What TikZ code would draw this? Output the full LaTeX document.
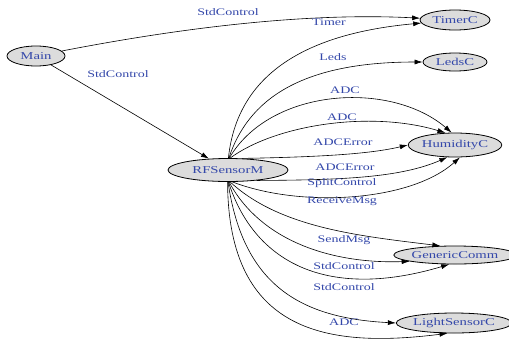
\documentclass[tikz,border=0pt]{standalone}
\usepackage{fontspec}
\setmainfont{Liberation Serif}[FakeStretch=1.4]
\usetikzlibrary{shapes.geometric,arrows.meta}

\definecolor{txtblue}{RGB}{52,72,170}
\definecolor{compgray}{RGB}{220,220,220}

\tikzset{
  comp/.style={ellipse, draw=black, thick, fill=compgray, text=txtblue,
    inner sep=0pt, minimum height=20, font=\fontsize{10.5}{12}\selectfont},
  iface/.style={-{Latex[length=8pt,width=5pt]}, semithick},
  lbl/.style={text=txtblue, inner sep=0pt, font=\fontsize{10}{12}\selectfont}
}

\begin{document}
\begin{tikzpicture}[x=1pt, y=-1pt]
    \useasboundingbox (0,0) rectangle (509,341);

    % components
    \node[comp, minimum width=58] (main) at (36,56) {Main};
    \node[comp, minimum width=120, minimum height=23] (rf) at (228,170) {RFSensorM};
    \node[comp, minimum width=70] (timer) at (455,20) {TimerC};
    \node[comp, minimum width=64, minimum height=18] (leds) at (455,62) {LedsC};
    \node[comp, minimum width=90, minimum height=24] (hum) at (455,145) {HumidityC};
    \node[comp, minimum width=106, minimum height=18] (gen) at (455,255) {GenericComm};
    \node[comp, minimum width=110] (light) at (454,323) {LightSensorC};

    % wiring from Main
    \draw[iface] (main) .. controls (170,30) and (300,12) .. (timer)
        node[lbl] (l1) at (228,12) {StdControl};
    \draw[iface] (main) -- (rf)
        node[lbl] (l2) at (118,74) {StdControl};

    % wiring from RFSensorM, upper side
    \draw[iface] (rf.88) .. controls (236,85) and (290,35) .. (timer)
        node[lbl] (l3) at (329,22) {Timer};
    \draw[iface] (rf.86) .. controls (248,100) and (300,62) .. (leds)
        node[lbl] (l4) at (333,57) {Leds};
    \draw[iface] (rf.84) .. controls (270,88) and (390,80) .. (hum.105)
        node[lbl] (l5) at (345,90) {ADC};
    \draw[iface] (rf.80) .. controls (275,125) and (370,110) .. (hum.128)
        node[lbl] (l6) at (342,117) {ADC};
    \draw[iface] (rf.40) .. controls (320,157) and (370,154) .. (hum.west)
        node[lbl] (l7) at (343,142) {ADCError};
    \draw[iface] (rf.-20) .. controls (340,180) and (400,178) .. (hum.238)
        node[lbl] (l8) at (345,167) {ADCError};
    \draw[iface] (rf.-70) .. controls (300,208) and (410,202) .. (hum.292)
        node[lbl] (l9) at (342,183) {SplitControl};

    % wiring from RFSensorM, lower side
    \draw[iface] (rf.-80) .. controls (280,228) and (360,236) .. (gen.148)
        node[lbl] (l10) at (342,201) {ReceiveMsg};
    \draw[iface] (rf.-85) .. controls (260,240) and (330,264) .. (gen.188)
        node[lbl] (l11) at (344,240) {SendMsg};
    \draw[iface] (rf.-88) .. controls (255,265) and (330,300) .. (gen.238)
        node[lbl] (l12) at (344,266) {StdControl};
    \draw[iface] (rf.-90) .. controls (243,285) and (300,318) .. (light.west)
        node[lbl] (l13) at (344,287) {StdControl};
    \draw[iface] (rf.-92) .. controls (228,335) and (330,348) .. (light.238)
        node[lbl] (l14) at (344,322) {ADC};
\end{tikzpicture}
\end{document}
